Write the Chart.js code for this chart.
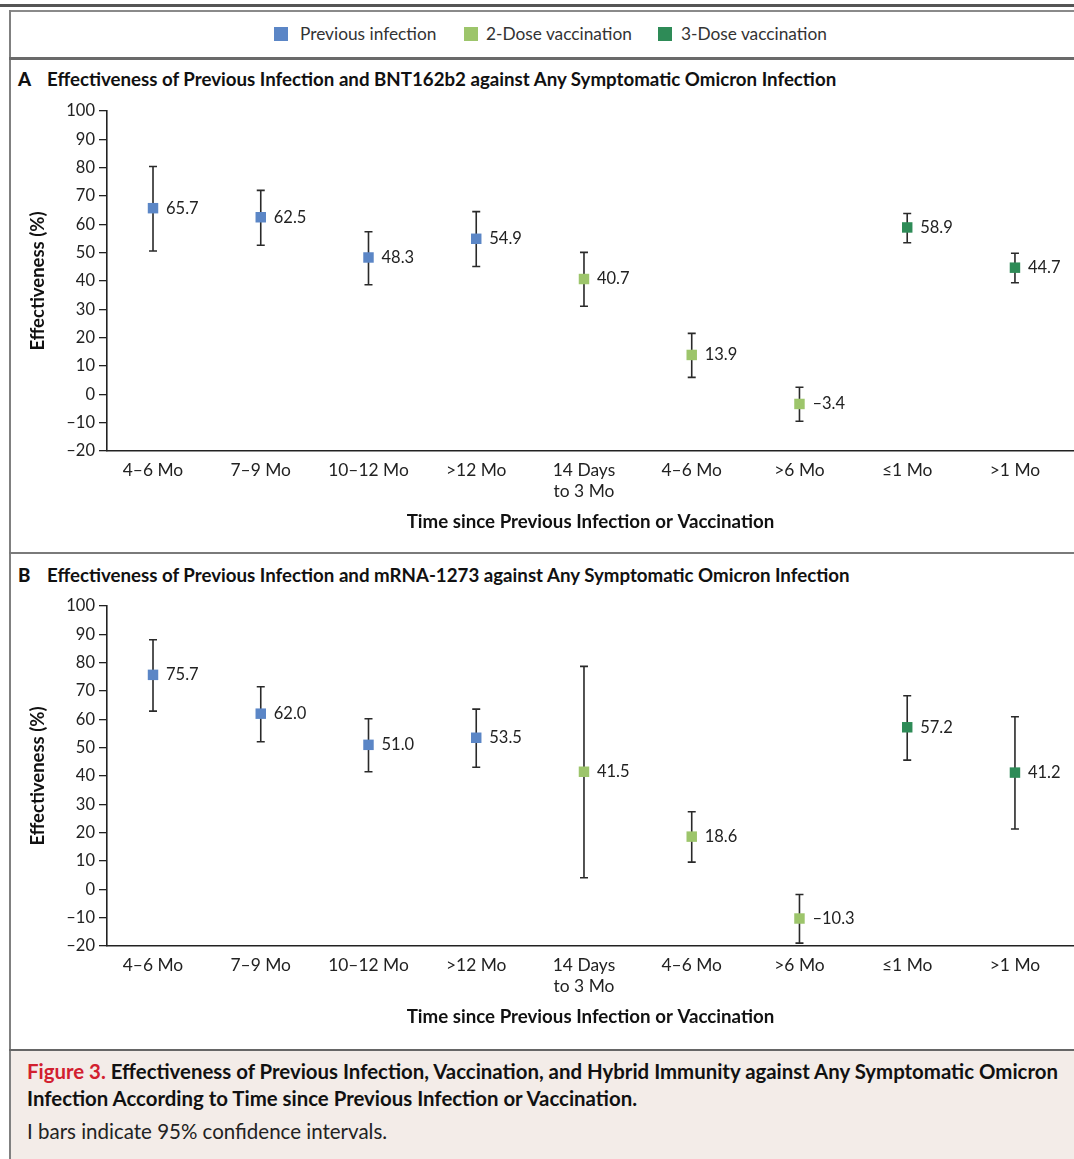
<!DOCTYPE html>
<html>
<head>
<meta charset="utf-8">
<script src="https://cdn.jsdelivr.net/npm/chart.js@4.4.1/dist/chart.umd.min.js"></script>
<style>
  html, body { margin: 0; padding: 0; background: #fff; }
  body { width: 1074px; height: 1159px; position: relative; overflow: hidden; font-family: Lato, "Open Sans", sans-serif; color: #222; }
  .abs { position: absolute; }
  .hl { position: absolute; left: 9px; right: 0; }
  .sw { position: absolute; top: 27px; width: 14px; height: 14px; }
  .lt { position: absolute; top: 23px; font-size: 17.3px; line-height: 22px; color: #333; white-space: nowrap; }
  .ptitle { position: absolute; left: 18px; font-weight: bold; font-size: 18.7px; color: #111; white-space: nowrap; }
  .ptitle b { display: inline-block; width: 29px; }
  canvas { position: absolute; left: 0; }
  #caption { position: absolute; left: 11px; top: 1051px; right: 0; bottom: 0; background: #f3ece8; }
  #caption .c1 { position: absolute; left: 16px; top: 7px; width: 1045px; font-weight: bold; font-size: 20.4px; line-height: 27px; color: #111; }
  #caption .c1 .red { color: #d2202f; }
  #caption .c2 { position: absolute; left: 16px; top: 68px; font-size: 20.5px; line-height: 24px; color: #222; }
</style>
</head>
<body>
<div class="abs" style="left:0;right:0;top:4px;height:3px;background:#555;"></div>
<div class="abs" style="left:9px;right:0;top:10px;height:2px;background:#8a8a8a;"></div>
<div class="abs" style="left:9px;top:10px;width:2px;bottom:0;background:#808080;"></div>
<div class="hl" style="top:57px;height:3px;background:#6a6a6a;"></div>
<div class="hl" style="top:552px;height:2px;background:#7a7a7a;"></div>
<div class="hl" style="top:1049px;height:2px;background:#666;"></div>

<div id="legend"></div>

<div class="ptitle" style="top:68px;"><b>A</b>Effectiveness of Previous Infection and BNT162b2 against Any Symptomatic Omicron Infection</div>
<div class="ptitle" style="top:564px;"><b>B</b>Effectiveness of Previous Infection and mRNA-1273 against Any Symptomatic Omicron Infection</div>

<canvas id="chartA" style="top:95px;"></canvas>
<canvas id="chartB" style="top:590px;"></canvas>

<div id="caption">
  <div class="c1"><span class="red">Figure 3.</span> Effectiveness of Previous Infection, Vaccination, and Hybrid Immunity against Any Symptomatic Omicron Infection According to Time since Previous Infection or Vaccination.</div>
  <div class="c2">I bars indicate 95% confidence intervals.</div>
</div>

<script>
// ---- Data ----
const categories = ['4–6 Mo', '7–9 Mo', '10–12 Mo', '>12 Mo', ['14 Days', 'to 3 Mo'], '4–6 Mo', '>6 Mo', '≤1 Mo', '>1 Mo'];
const categoryGroup = [0, 0, 0, 0, 1, 1, 1, 2, 2];
const seriesNames = ['Previous infection', '2-Dose vaccination', '3-Dose vaccination'];
const seriesColors = ['#5b86c6', '#9dc56b', '#2e8b57'];

const aEstimate = [65.7, 62.5, 48.3, 54.9, 40.7, 13.9, -3.4, 58.9, 44.7];
const aLower    = [50.6, 52.6, 38.7, 45.1, 31.1, 6.0, -9.5, 53.5, 39.4];
const aUpper    = [80.4, 72.0, 57.4, 64.5, 50.1, 21.5, 2.5, 63.8, 49.8];

const bEstimate = [75.7, 62.0, 51.0, 53.5, 41.5, 18.6, -10.3, 57.2, 41.2];
const bLower    = [62.9, 52.1, 41.5, 43.1, 4.1, 9.6, -19.0, 45.6, 21.3];
const bUpper    = [88.1, 71.5, 60.2, 63.6, 78.7, 27.4, -1.8, 68.3, 60.9];

const yTickValues = [-20, -10, 0, 10, 20, 30, 40, 50, 60, 70, 80, 90, 100];

// ---- Legend (HTML) ----
const legendSwatchLeft = [274, 464, 658];
const legendTextLeft = [300, 486, 681];
const legendEl = document.getElementById('legend');
seriesNames.forEach((n, i) => {
  const s = document.createElement('div');
  s.className = 'sw';
  s.style.left = legendSwatchLeft[i] + 'px';
  s.style.background = seriesColors[i];
  legendEl.appendChild(s);
  const t = document.createElement('div');
  t.className = 'lt';
  t.style.left = legendTextLeft[i] + 'px';
  t.textContent = n;
  legendEl.appendChild(t);
});

function fmt(v) {
  const s = Math.abs(v).toFixed(1);
  return v < 0 ? '–' + s : s;
}

const FONT = 'Lato';

const errorBarPlugin = {
  id: 'errorBars',
  beforeDatasetsDraw(chart, args, opts) {
    const ctx = chart.ctx;
    const xs = chart.scales.x, ys = chart.scales.y;
    ctx.save();
    ctx.strokeStyle = '#2a2a2a';
    ctx.lineWidth = 1.6;
    opts.lower.forEach((lo, i) => {
      const x = xs.getPixelForValue(i);
      const yt = ys.getPixelForValue(opts.upper[i]);
      const yb = ys.getPixelForValue(lo);
      ctx.beginPath();
      ctx.moveTo(x, yt); ctx.lineTo(x, yb);
      ctx.moveTo(x - 4, yt); ctx.lineTo(x + 4, yt);
      ctx.moveTo(x - 4, yb); ctx.lineTo(x + 4, yb);
      ctx.stroke();
    });
    ctx.restore();
  },
  afterDatasetsDraw(chart, args, opts) {
    const ctx = chart.ctx;
    const xs = chart.scales.x, ys = chart.scales.y;
    ctx.save();
    ctx.fillStyle = '#222';
    ctx.font = '16.5px ' + FONT;
    ctx.textBaseline = 'middle';
    ctx.textAlign = 'left';
    opts.estimate.forEach((v, i) => {
      const x = xs.getPixelForValue(i);
      const y = ys.getPixelForValue(v);
      ctx.fillText(fmt(v), x + 13, y);
    });
    ctx.restore();
  }
};

function makeChart(id, estimate, lower, upper) {
  const canvas = document.getElementById(id);
  canvas.width = 1074; canvas.height = 450;
  canvas.style.width = '1074px'; canvas.style.height = '450px';
  const datasets = seriesNames.map((name, g) => ({
    label: name,
    data: estimate.map((v, i) => ({ x: i, y: v })).filter((p, i) => categoryGroup[i] === g),
    backgroundColor: seriesColors[g],
    borderColor: seriesColors[g],
    pointStyle: 'rect',
    pointRadius: 7.4,
    pointBorderWidth: 0,
    showLine: false
  }));
  return new Chart(canvas, {
    type: 'scatter',
    data: { datasets },
    plugins: [errorBarPlugin],
    options: {
      responsive: false,
      animation: false,
      devicePixelRatio: 1,
      layout: { autoPadding: false, padding: { top: 16, right: 0, bottom: 0, left: 0 } },
      plugins: {
        legend: { display: false },
        tooltip: { enabled: false },
        errorBars: { estimate, lower, upper }
      },
      scales: {
        x: {
          type: 'linear',
          min: -0.427,
          max: 8.548,
          afterBuildTicks: s => { s.ticks = categories.map((c, i) => ({ value: i })); },
          afterFit: s => { s.height = 94; },
          ticks: {
            autoSkip: false,
            maxRotation: 0,
            minRotation: 0,
            padding: 9,
            color: '#222',
            font: { family: FONT, size: 17.4 },
            callback: v => categories[v]
          },
          grid: { display: true, drawOnChartArea: false, drawTicks: false, color: 'rgba(0,0,0,0)' },
          border: { display: true, color: '#222', width: 1.6 },
          title: {
            display: true,
            text: 'Time since Previous Infection or Vaccination',
            color: '#111',
            font: { family: FONT, size: 18.7, weight: 'bold' },
            padding: { top: 0, bottom: 12 }
          }
        },
        y: {
          min: -20,
          max: 100,
          afterBuildTicks: s => { s.ticks = yTickValues.map(v => ({ value: v })); },
          afterFit: s => { s.width = 107; },
          ticks: {
            padding: 4,
            color: '#222',
            font: { family: FONT, size: 16.5 },
            callback: v => (v < 0 ? '–' + Math.abs(v) : String(v))
          },
          grid: { display: true, drawOnChartArea: false, drawTicks: true, tickLength: 8, color: '#222', lineWidth: 1.3 },
          border: { display: true, color: '#222', width: 1.6 },
          title: {
            display: true,
            text: 'Effectiveness (%)',
            color: '#111',
            font: { family: FONT, size: 18.5, weight: 'bold' },
            padding: { top: 27, bottom: 0 }
          }
        }
      }
    }
  });
}

makeChart('chartA', aEstimate, aLower, aUpper);
makeChart('chartB', bEstimate, bLower, bUpper);
</script>
</body>
</html>
